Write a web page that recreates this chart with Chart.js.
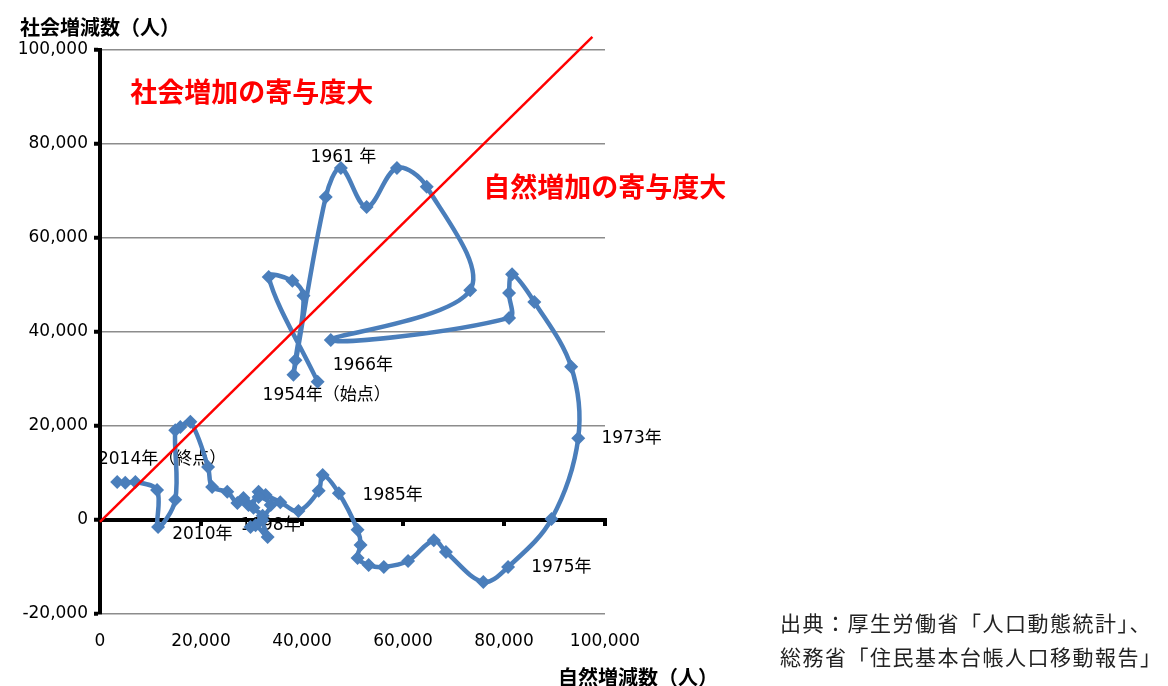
<!DOCTYPE html>
<html>
<head>
<meta charset="utf-8">
<script src="https://cdn.jsdelivr.net/npm/chart.js@4.4.1/dist/chart.umd.min.js"></script>
<style>
  html, body { margin: 0; padding: 0; background: #fff; }
  #wrap { width: 1168px; height: 686px; }
</style>
</head>
<body>
<div id="wrap"><canvas id="PopChart" width="1168" height="686"></canvas></div>
<script>
// 自然増減数 (x) / 社会増減数 (y), 1954 -> 2014
var naturalChange = [
    43100, 33400, 38100, 40300, 38700, 38300, 44700, 47700, 52800, 58800,
    64700, 73300, 45700, 81000, 81000, 81600, 86000, 93300, 94700, 89400,
    80800, 75900, 68500, 66100, 61000, 56200, 53200, 51000, 51600, 51000,
    47300, 44100, 43300, 39300, 35700, 32800, 31400, 30400, 32200, 29800,
    30800, 33200, 32200, 33800, 31400, 29400, 28400, 27200, 25200, 22200,
    21400, 17900, 15900, 14900, 14900, 11500, 11300, 7000, 5000, 3400
];
var socialChange = [
    29400, 51700, 50900, 47700, 34000, 30900, 68700, 74900, 66600, 74900,
    70900, 48900, 38300, 43000, 48300, 52300, 46400, 32600, 17400, 200,
    -10000, -13200, -6800, -4300, -8700, -10000, -9600, -8100, -5300, -2100,
    5700, 9600, 6200, 1900, 3800, 5300, 6000, 2600, 900, -1500,
    -1100, -3600, 0, 3200, 4900, 3200, 4700, 3600, 6000, 7000,
    11300, 20900, 19800, 19100, 4300, -1500, 6400, 8100, 7900, 8100
];

// 寄与度の境界線
var guideX = [0, 97500];
var guideY = [-400, 102800];

var xTicks = [0, 20000, 40000, 60000, 80000, 100000];
var yTicks = [-20000, 0, 20000, 40000, 60000, 80000, 100000];

var yearLabels = ['1961 年', '1966年', '1954年（始点）', '2014年（終点）', '2010年', '1998年', '1985年', '1973年', '1975年'];
var yearLabelX = [41700, 46100, 32200, -400, 14300, 27800, 52000, 99300, 85400];
var yearLabelY = [77200, 32800, 26400, 12800, -3200, -1100, 5300, 17400, -10200];

var noteLabels = ['社会増加の寄与度大', '自然増加の寄与度大'];
var noteX = [6000, 75900];
var noteY = [91100, 70900];

var blue = '#4a7ebb';

function zip(xs, ys) {
    return xs.map(function (x, i) { return { x: x, y: ys[i] }; });
}

var overlay = {
    id: 'overlay',
    beforeDatasetsDraw: function (chart) {
        var ctx = chart.ctx, xs = chart.scales.x, ys = chart.scales.y;
        var y0 = ys.getPixelForValue(0);
        ctx.save();
        // zero line with tick marks
        ctx.fillStyle = '#000';
        ctx.fillRect(xs.left, y0 - 2, xs.right - xs.left + 2, 4);
        xTicks.forEach(function (v) {
            if (v === 0) return;
            var px = xs.getPixelForValue(v);
            ctx.fillRect(px - 2, y0, 4, 6);
        });
        // year labels
        ctx.font = '17px "DejaVu Sans", "Noto Sans CJK JP"';
        ctx.fillStyle = '#000';
        ctx.textBaseline = 'middle';
        yearLabels.forEach(function (t, i) {
            ctx.fillText(t, xs.getPixelForValue(yearLabelX[i]), ys.getPixelForValue(yearLabelY[i]));
        });
        ctx.restore();
    },
    afterDraw: function (chart) {
        var ctx = chart.ctx, xs = chart.scales.x, ys = chart.scales.y;
        ctx.save();
        ctx.textBaseline = 'middle';
        ctx.fillStyle = '#ff0000';
        ctx.font = 'bold 27px "Noto Sans CJK JP"';
        noteLabels.forEach(function (t, i) {
            ctx.fillText(t, xs.getPixelForValue(noteX[i]), ys.getPixelForValue(noteY[i]));
        });
        ctx.fillStyle = '#000';
        ctx.font = 'bold 20px "Noto Sans CJK JP"';
        ctx.fillText('社会増減数（人）', 20, 27);
        ctx.fillText('自然増減数（人）', 558, 677);
        ctx.fillStyle = '#222';
        ctx.font = '21px "Noto Sans CJK JP"';
        ctx.letterSpacing = '1.5px';
        ctx.fillText('出典：厚生労働省「人口動態統計」、', 780, 623);
        ctx.fillText('総務省「住民基本台帳人口移動報告」', 780, 657);
        ctx.restore();
    }
};

new Chart(document.getElementById('PopChart'), {
    type: 'scatter',
    data: {
        datasets: [{
            data: zip(guideX, guideY),
            showLine: true,
            borderColor: '#ff0000',
            borderWidth: 2.5,
            pointRadius: 0,
            clip: false,
            order: 0
        }, {
            data: zip(naturalChange, socialChange),
            showLine: true,
            borderColor: blue,
            backgroundColor: blue,
            borderWidth: 4.5,
            tension: 0.35,
            pointStyle: 'rectRot',
            pointRadius: 7,
            pointBorderWidth: 0,
            clip: false,
            order: 1
        }]
    },
    options: {
        responsive: false,
        animation: false,
        devicePixelRatio: 1,
        events: [],
        layout: { padding: { top: 50, right: 563, bottom: 0, left: 0 } },
        plugins: { legend: { display: false }, tooltip: { enabled: false } },
        scales: {
            x: {
                type: 'linear',
                min: 0, max: 100000,
                afterFit: function (s) { s.height = 72; },
                afterBuildTicks: function (s) { s.ticks = xTicks.map(function (v) { return { value: v }; }); },
                grid: { display: false },
                border: { display: false },
                ticks: {
                    padding: 9,
                    color: '#000',
                    font: { family: 'DejaVu Sans', size: 17 },
                    maxRotation: 0,
                    callback: function (v) { return v.toLocaleString('en-US'); }
                }
            },
            y: {
                type: 'linear',
                min: -20000, max: 100000,
                afterFit: function (s) { s.width = 100; },
                afterBuildTicks: function (s) { s.ticks = yTicks.map(function (v) { return { value: v }; }); },
                grid: { color: '#8c8c8c', lineWidth: 1.5, tickColor: '#000', tickLength: 6, tickWidth: 4 },
                border: { display: true, color: '#000', width: 4 },
                ticks: {
                    padding: 6,
                    color: '#000',
                    font: { family: 'DejaVu Sans', size: 17 },
                    callback: function (v) { return v.toLocaleString('en-US'); }
                }
            }
        }
    },
    plugins: [overlay]
});
</script>
</body>
</html>
